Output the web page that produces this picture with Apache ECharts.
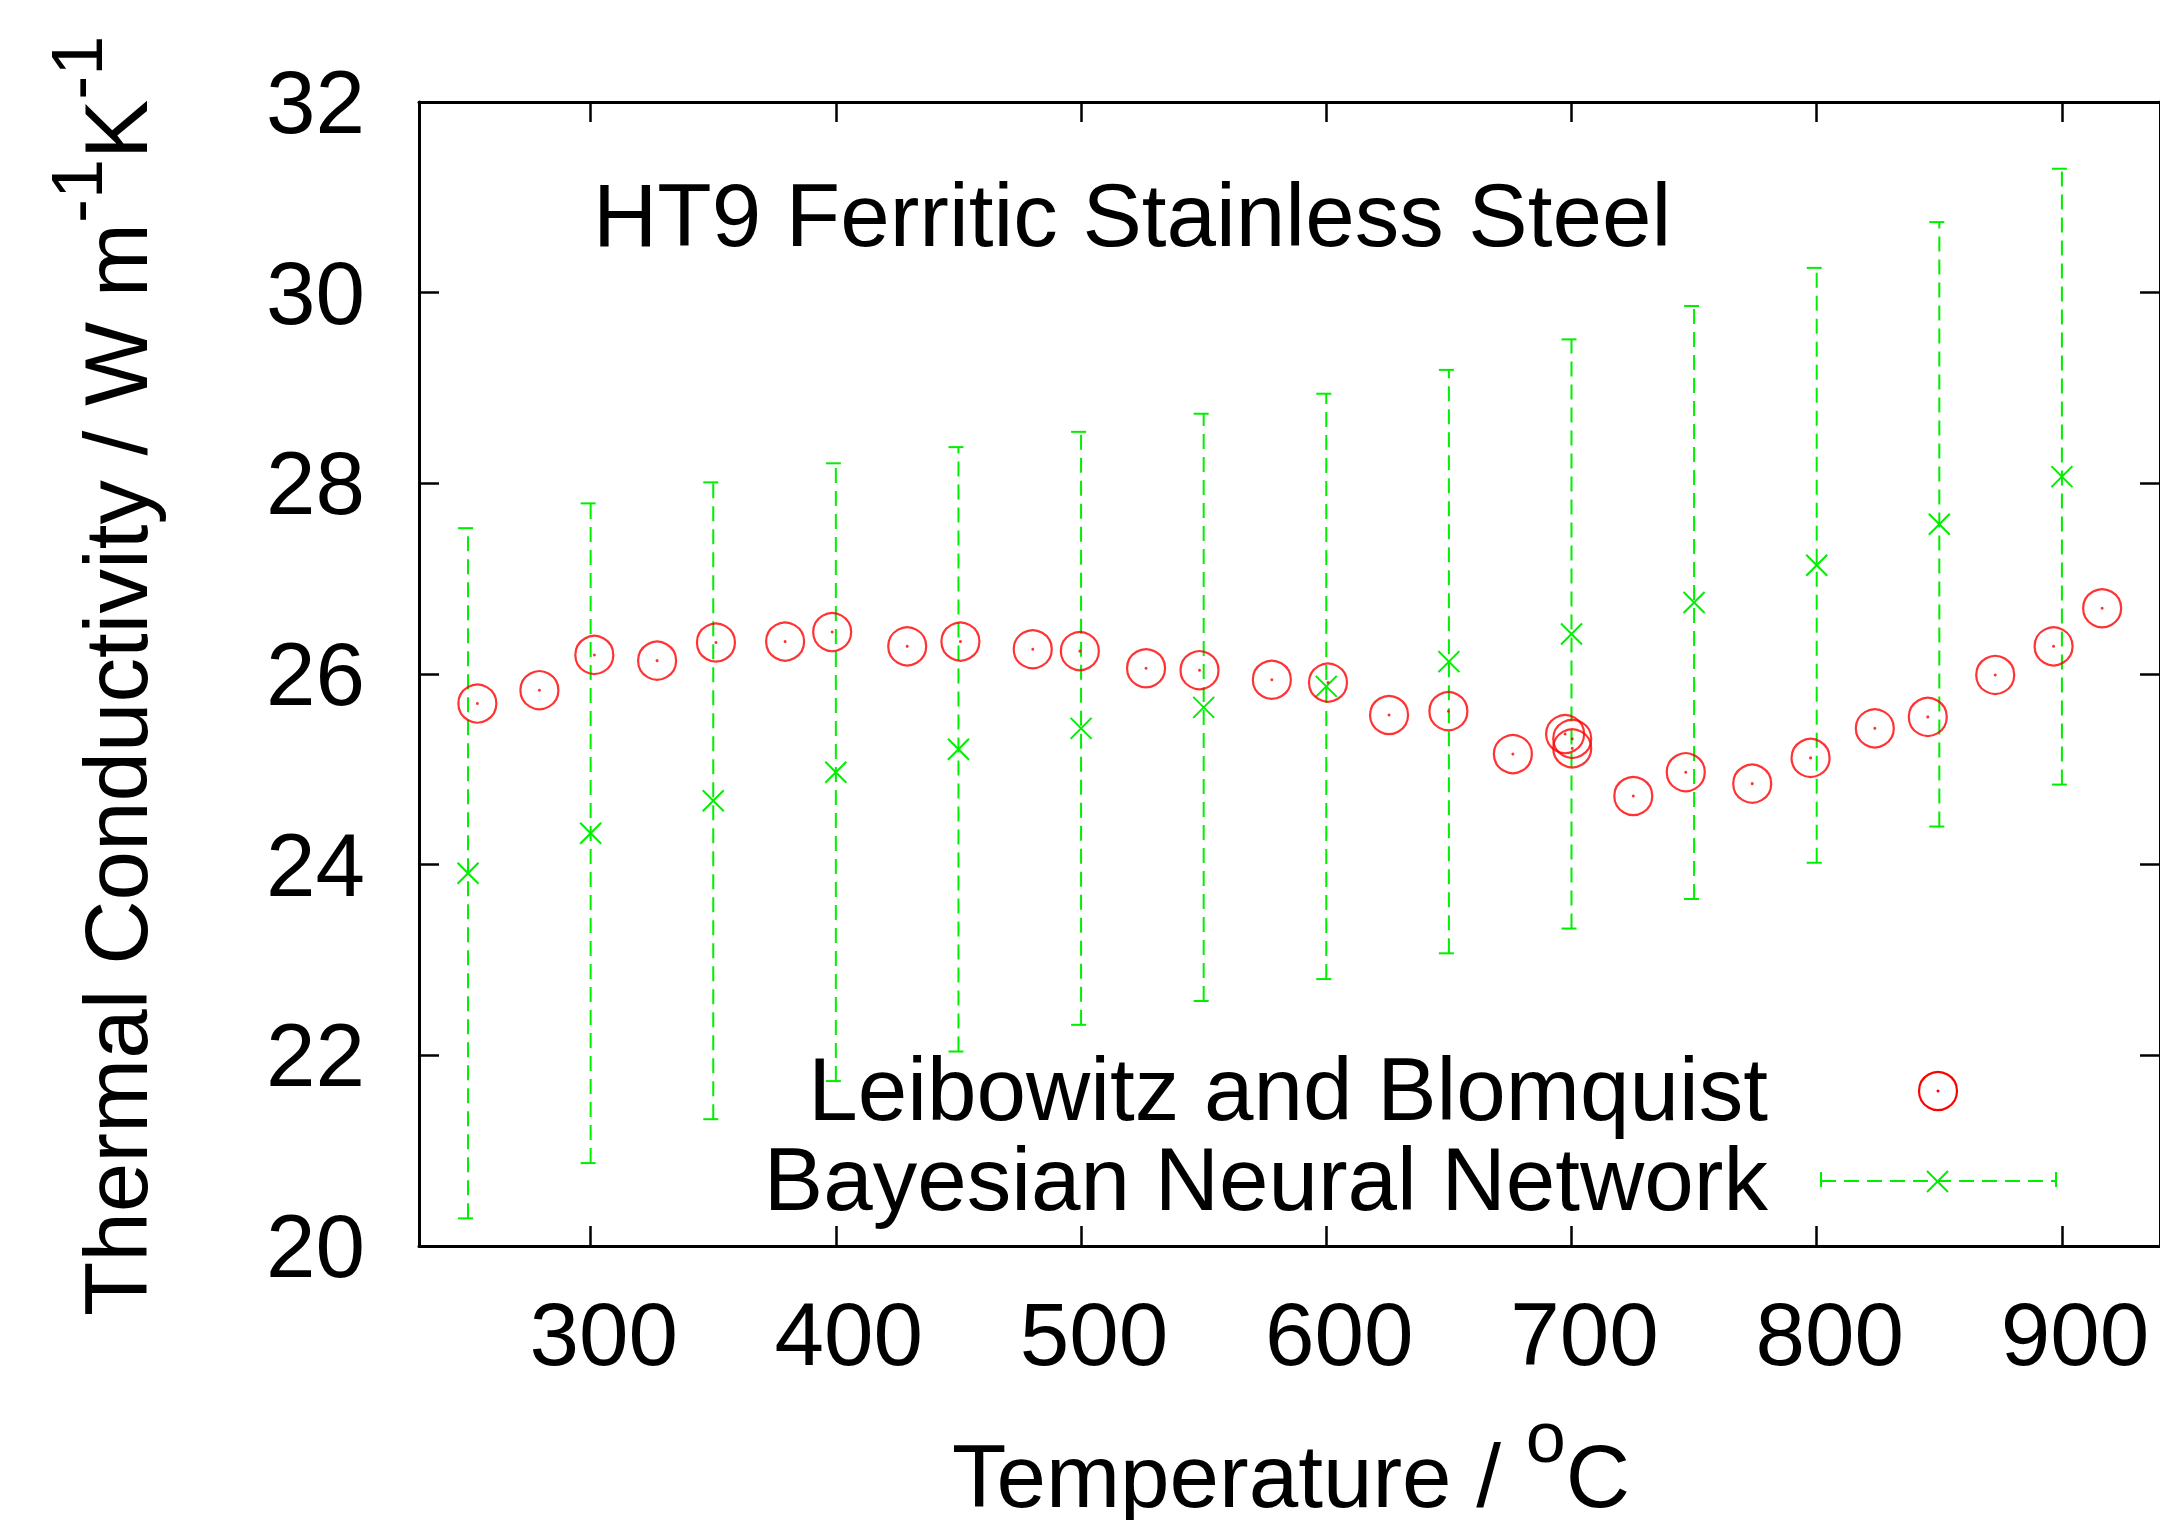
<!DOCTYPE html>
<html>
<head>
<meta charset="utf-8">
<script src="https://cdn.jsdelivr.net/npm/echarts@6/dist/echarts.min.js"></script>
<style>
html, body { margin: 0; padding: 0; background: #fff; }
#chart { width: 2160px; height: 1520px; }
</style>
</head>
<body>
<div id="chart"></div>
<script>
// Leibowitz and Blomquist measurements
const lbTemp = [253.8, 279.1, 301.5, 327.1, 351.1, 379.3, 398.5, 429.1, 450.8, 480.3,
  499.5, 526.5, 548.3, 577.8, 600.7, 625.6, 649.8, 676.1, 697.4, 700.3,
  700.3, 725.2, 746.6, 773.7, 797.5, 823.7, 845.3, 872.8, 896.6, 916.4]
const lbCond = [25.69, 25.83, 26.20, 26.14, 26.33, 26.34, 26.44, 26.29, 26.34, 26.26,
  26.24, 26.06, 26.04, 25.94, 25.91, 25.57, 25.61, 25.16, 25.37, 25.32,
  25.22, 24.72, 24.97, 24.85, 25.12, 25.43, 25.55, 25.99, 26.29, 26.69]

// Bayesian neural network: prediction and error bar half-width
const bnnTemp = [250, 300, 350, 400, 450, 500, 550, 600, 650, 700, 750, 800, 850, 900]
const bnnMean = [23.91, 24.33, 24.67, 24.97, 25.21, 25.43, 25.65, 25.87, 26.13, 26.42, 26.75, 27.14, 27.57, 28.07]
const bnnErr = [3.62, 3.46, 3.34, 3.24, 3.17, 3.11, 3.08, 3.07, 3.06, 3.09, 3.11, 3.12, 3.17, 3.23]

const xTicks = [300, 400, 500, 600, 700, 800, 900]

const FONT = 'Liberation Sans'
const RED = '#ff0000'
const GREEN = '#00ee00'
const SIZE = 89
const SUP = 72
const RAISE = 45

const ctx = document.createElement('canvas').getContext('2d')
function textW(s, size) {
  ctx.font = size + 'px "' + FONT + '"'
  return ctx.measureText(s).width
}
// 文本样式 (canvas middle ~ baseline - 0.3465em)
function txt(s, size, x, baseline, align) {
  return {
    type: 'text',
    x: x,
    y: baseline - 0.3465 * size,
    style: {
      text: s,
      font: size + 'px "' + FONT + '"',
      fill: '#000',
      textAlign: align || 'left',
      textVerticalAlign: 'middle'
    }
  }
}
// 带上标的标题
function supRow(parts) {
  let x = 0
  const children = []
  parts.forEach(p => {
    const sz = p[1] ? SUP : SIZE
    children.push(txt(p[0], sz, x, p[1] ? -RAISE : 0))
    x += textW(p[0], sz)
  })
  return { children, width: x }
}

const yName = supRow([['Thermal Conductivity / W m', false], ['-1', true], ['K', false], ['-1', true]])
const xName = supRow([['Temperature / ', false], ['o', true], ['C', false]])

const chart = echarts.init(document.getElementById('chart'), null, { renderer: 'svg' })

const axisLine = { show: true, onZero: false, lineStyle: { color: '#000', width: 3 } }
const labelStyle = { fontSize: SIZE, fontFamily: FONT, color: '#000' }

const dashStyle = { stroke: GREEN, lineWidth: 2, lineDash: [15, 8] }
const solidStyle = { stroke: GREEN, lineWidth: 2 }

chart.setOption({
  animation: false,
  backgroundColor: '#fff',
  grid: { left: 419, top: 102, width: 1744, height: 1144 },
  xAxis: [
    {
      type: 'value', position: 'bottom', min: 230, max: 940,
      axisLine,
      axisTick: { show: true, inside: true, length: 20, customValues: xTicks, lineStyle: { color: '#000', width: 2.5 } },
      axisLabel: Object.assign({ customValues: xTicks, margin: 43, padding: [0, 0, 0, 26] }, labelStyle),
      splitLine: { show: false }
    },
    {
      type: 'value', position: 'top', min: 230, max: 940,
      axisLine,
      axisTick: { show: true, inside: true, length: 20, customValues: xTicks, lineStyle: { color: '#000', width: 2.5 } },
      axisLabel: { show: false },
      splitLine: { show: false }
    }
  ],
  yAxis: [
    {
      type: 'value', position: 'left', min: 20, max: 32, interval: 2,
      axisLine,
      axisTick: { show: true, inside: true, length: 20, lineStyle: { color: '#000', width: 2.5 } },
      axisLabel: Object.assign({ margin: 54 }, labelStyle),
      splitLine: { show: false }
    },
    {
      type: 'value', position: 'right', min: 20, max: 32, interval: 2,
      axisLine,
      axisTick: { show: true, inside: true, length: 20, lineStyle: { color: '#000', width: 2.5 } },
      axisLabel: { show: false },
      splitLine: { show: false }
    }
  ],
  series: [
    {
      name: 'Leibowitz and Blomquist',
      type: 'scatter',
      data: lbTemp.map((t, i) => [t, lbCond[i]]),
      symbol: 'circle',
      symbolSize: 38,
      silent: true,
      itemStyle: { color: 'rgba(0,0,0,0)', borderColor: RED, borderWidth: 2.2 }
    },
    {
      name: 'dot',
      type: 'scatter',
      data: lbTemp.map((t, i) => [t, lbCond[i]]),
      symbol: 'circle',
      symbolSize: 3,
      silent: true,
      itemStyle: { color: RED }
    },
    {
      name: 'Bayesian Neural Network',
      type: 'custom',
      data: bnnTemp.map((t, i) => [t, bnnMean[i], bnnErr[i]]),
      encode: { x: 0, y: 1 },
      silent: true,
      renderItem(params, api) {
        const x = api.value(0)
        const m = api.value(1)
        const e = api.value(2)
        const top = api.coord([x, m + e])
        const bot = api.coord([x, m - e])
        const mid = api.coord([x, m])
        const cap = 10
        const c = 10.5
        return {
          type: 'group',
          children: [
            { type: 'line', shape: { x1: bot[0], y1: bot[1], x2: top[0], y2: top[1] }, style: dashStyle },
            { type: 'line', shape: { x1: top[0] - cap, y1: top[1], x2: top[0] + cap, y2: top[1] }, style: dashStyle },
            { type: 'line', shape: { x1: bot[0] - cap, y1: bot[1], x2: bot[0] + cap, y2: bot[1] }, style: dashStyle },
            { type: 'line', shape: { x1: mid[0] - c, y1: mid[1] - c, x2: mid[0] + c, y2: mid[1] + c }, style: solidStyle },
            { type: 'line', shape: { x1: mid[0] - c, y1: mid[1] + c, x2: mid[0] + c, y2: mid[1] - c }, style: solidStyle }
          ]
        }
      }
    }
  ],
  graphic: [
    // 标题
    txt('HT9 Ferritic Stainless Steel', SIZE, 593, 246, 'left'),
    // 图例
    txt('Leibowitz and Blomquist', SIZE, 1768, 1120, 'right'),
    txt('Bayesian Neural Network', SIZE, 1768, 1210, 'right'),
    { type: 'circle', shape: { cx: 1938, cy: 1091, r: 19 }, style: { fill: 'none', stroke: RED, lineWidth: 2.2 } },
    { type: 'circle', shape: { cx: 1938, cy: 1091, r: 1.5 }, style: { fill: RED } },
    { type: 'line', shape: { x1: 1821, y1: 1181, x2: 2056, y2: 1181 }, style: dashStyle },
    { type: 'line', shape: { x1: 1821, y1: 1172, x2: 1821, y2: 1190 }, style: dashStyle },
    { type: 'line', shape: { x1: 2056, y1: 1172, x2: 2056, y2: 1190 }, style: dashStyle },
    { type: 'line', shape: { x1: 1927, y1: 1171, x2: 1948, y2: 1192 }, style: solidStyle },
    { type: 'line', shape: { x1: 1927, y1: 1192, x2: 1948, y2: 1171 }, style: solidStyle },
    // 坐标轴标题
    { type: 'group', x: 147, y: 1316, rotation: Math.PI / 2, children: yName.children },
    { type: 'group', x: 1291 - xName.width / 2, y: 1507, children: xName.children }
  ]
})
</script>
</body>
</html>
